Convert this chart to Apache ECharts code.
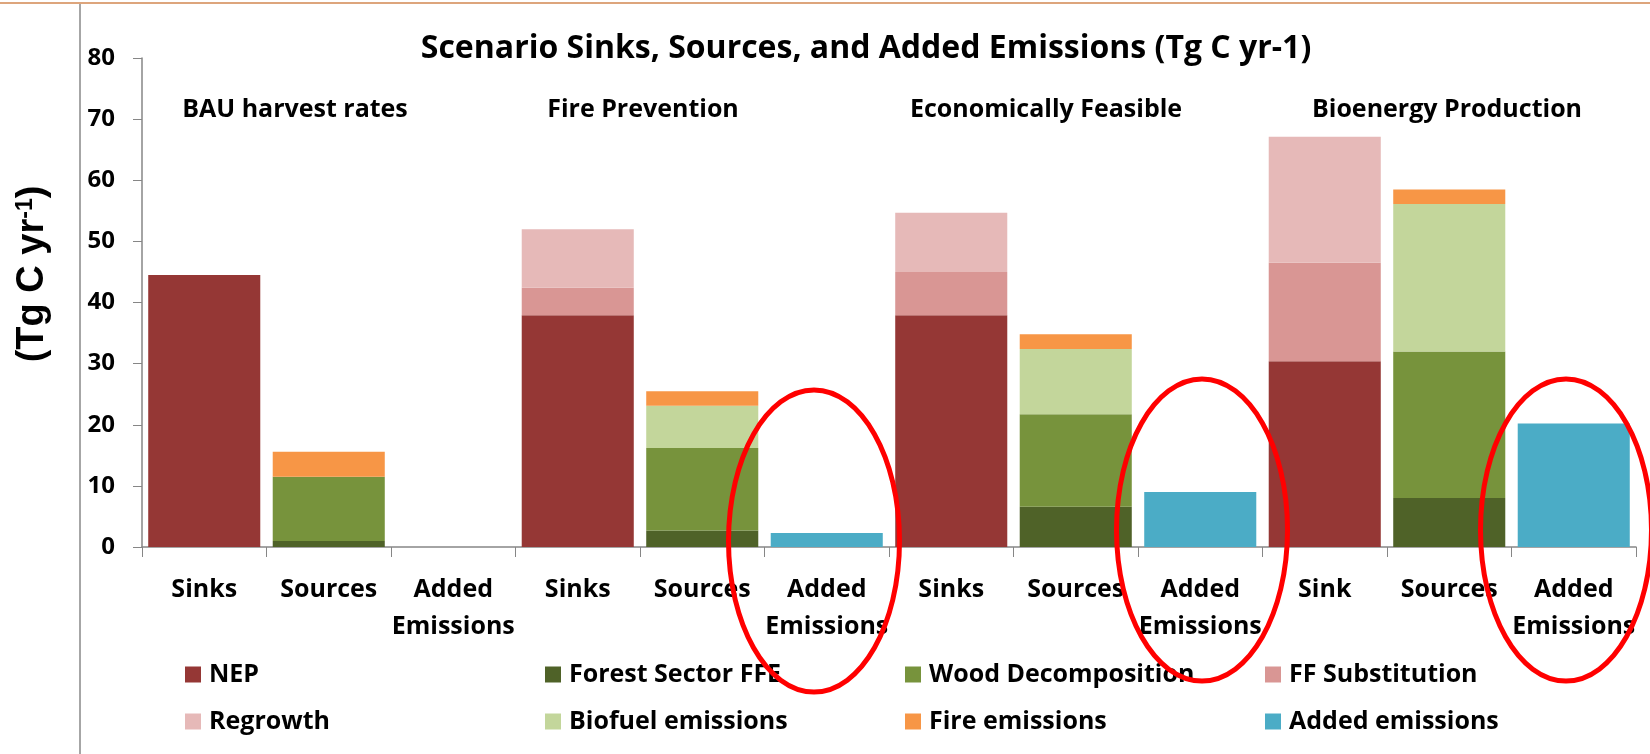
<!DOCTYPE html>
<html>
<head>
<meta charset="utf-8">
<title>Scenario Sinks, Sources, and Added Emissions</title>
<script src="https://cdn.jsdelivr.net/npm/echarts@6/dist/echarts.min.js"></script>
<style>
  html, body { margin: 0; padding: 0; background: #fff; }
  #main { width: 1650px; height: 754px; }
</style>
</head>
<body>
<div id="main"></div>
<script>
// categories along the x axis (4 scenarios x 3 bars)
const categories = [
  'Sinks', 'Sources', 'Added\nEmissions',
  'Sinks', 'Sources', 'Added\nEmissions',
  'Sinks', 'Sources', 'Added\nEmissions',
  'Sink', 'Sources', 'Added\nEmissions'
];
const scenarioNames = ['BAU harvest rates', 'Fire Prevention', 'Economically Feasible', 'Bioenergy Production'];
const yTicks = [0, 10, 20, 30, 40, 50, 60, 70, 80];

// values (Tg C / yr), null = no segment
const nep        = [44.5, null, null, 37.9, null, null, 37.9, null, null, 30.4, null, null];
const forestFFE  = [null, 1.0, null, null, 2.7, null, null, 6.6, null, null, 8.0, null];
const woodDecomp = [null, 10.5, null, null, 13.5, null, null, 15.1, null, null, 24.0, null];
const ffSubst    = [null, null, null, 4.5, null, null, 7.1, null, null, 16.1, null, null];
const regrowth   = [null, null, null, 9.6, null, null, 9.7, null, null, 20.6, null, null];
const biofuel    = [null, null, null, null, 6.9, null, null, 10.7, null, null, 24.1, null];
const fireEm     = [null, 4.1, null, null, 2.4, null, null, 2.4, null, null, 2.4, null];
const addedEm    = [null, null, null, null, null, 2.3, null, null, 9.0, null, null, 20.2];

const FONT = '"Open Sans", Lato, sans-serif';

const seriesDefs = [
  { name: 'NEP', data: nep, color: '#953735' },
  { name: 'Forest Sector FFE', data: forestFFE, color: '#4F6228' },
  { name: 'Wood Decomposition', data: woodDecomp, color: '#77933C' },
  { name: 'FF Substitution', data: ffSubst, color: '#D99694' },
  { name: 'Regrowth', data: regrowth, color: '#E6B9B8' },
  { name: 'Biofuel emissions', data: biofuel, color: '#C3D69B' },
  { name: 'Fire emissions', data: fireEm, color: '#F79646' },
  { name: 'Added emissions', data: addedEm, color: '#4BACC6' }
];

// label positions of the scenario headers and the hand drawn circles
const scenarioX = [295, 643, 1046, 1447];
const circles = [[814, 541], [1202, 530], [1566, 530]];

const chart = echarts.init(document.getElementById('main'));

let graphics = [
  { type: 'line', shape: { x1: 0, y1: 3, x2: 1650, y2: 3 }, style: { stroke: '#DDA57C', lineWidth: 2 } },
  { type: 'line', shape: { x1: 80, y1: 4, x2: 80, y2: 754 }, style: { stroke: '#A6A6A6', lineWidth: 2 } },
  {
    type: 'text', x: 866, y: 49,
    style: {
      text: 'Scenario Sinks, Sources, and Added Emissions (Tg C yr-1)',
      font: 'bold 32px ' + FONT, fill: '#000', textAlign: 'center', textVerticalAlign: 'middle'
    }
  },
  {
    type: 'text', x: 33, y: 274, rotation: Math.PI / 2,
    style: {
      text: '(Tg C yr{sup|-1})',
      font: 'bold 38px "Liberation Sans", Arial, sans-serif', fill: '#000',
      textAlign: 'center', textVerticalAlign: 'middle',
      rich: { sup: { fontSize: 23, fontWeight: 'bold', fontFamily: '"Liberation Sans", Arial', verticalAlign: 'top', fill: '#000' } }
    }
  }
];
scenarioNames.forEach(function (s, i) {
  graphics.push({
    type: 'text', x: scenarioX[i], y: 110,
    style: { text: s, font: 'bold 25px ' + FONT, fill: '#000', textAlign: 'center', textVerticalAlign: 'middle' }
  });
});
circles.forEach(function (c) {
  graphics.push({
    type: 'ellipse', z: 100,
    shape: { cx: c[0], cy: c[1], rx: 85.5, ry: 151 },
    style: { fill: 'none', stroke: '#FF0000', lineWidth: 5 }
  });
});

const option = {
  animation: false,
  backgroundColor: '#fff',
  grid: { left: 142, right: 14, top: 58, bottom: 207, containLabel: false },
  legend: {
    data: seriesDefs.map(s => s.name),
    left: 185, top: 659, width: 1430, padding: 0,
    icon: 'rect', itemWidth: 16, itemHeight: 16, itemGap: 16,
    textStyle: {
      fontFamily: FONT, fontWeight: 'bold', fontSize: 25, color: '#000',
      width: 320, lineHeight: 31, padding: [0, 0, 0, 3]
    }
  },
  xAxis: {
    type: 'category',
    data: categories,
    axisLine: { lineStyle: { color: '#868686', width: 1.5 } },
    axisTick: { show: true, length: 10, lineStyle: { color: '#868686' } },
    axisLabel: {
      interval: 0, margin: 24, color: '#000',
      fontFamily: FONT, fontWeight: 'bold', fontSize: 25, lineHeight: 37
    }
  },
  yAxis: {
    type: 'value',
    min: 0, max: 80, interval: 10,
    splitLine: { show: false },
    axisLine: { show: true, lineStyle: { color: '#868686', width: 1.5 } },
    axisTick: { show: true, length: 9, lineStyle: { color: '#868686' } },
    axisLabel: {
      margin: 27, color: '#000',
      fontFamily: FONT, fontWeight: 'bold', fontSize: 24,
      formatter: function (v) { return yTicks.indexOf(v) >= 0 ? String(v) : ''; }
    }
  },
  series: seriesDefs.map(function (s) {
    return {
      name: s.name,
      type: 'bar',
      stack: 'total',
      barCategoryGap: '10%',
      data: s.data,
      itemStyle: { color: s.color }
    };
  }),
  graphic: graphics
};

chart.setOption(option);
</script>
</body>
</html>
